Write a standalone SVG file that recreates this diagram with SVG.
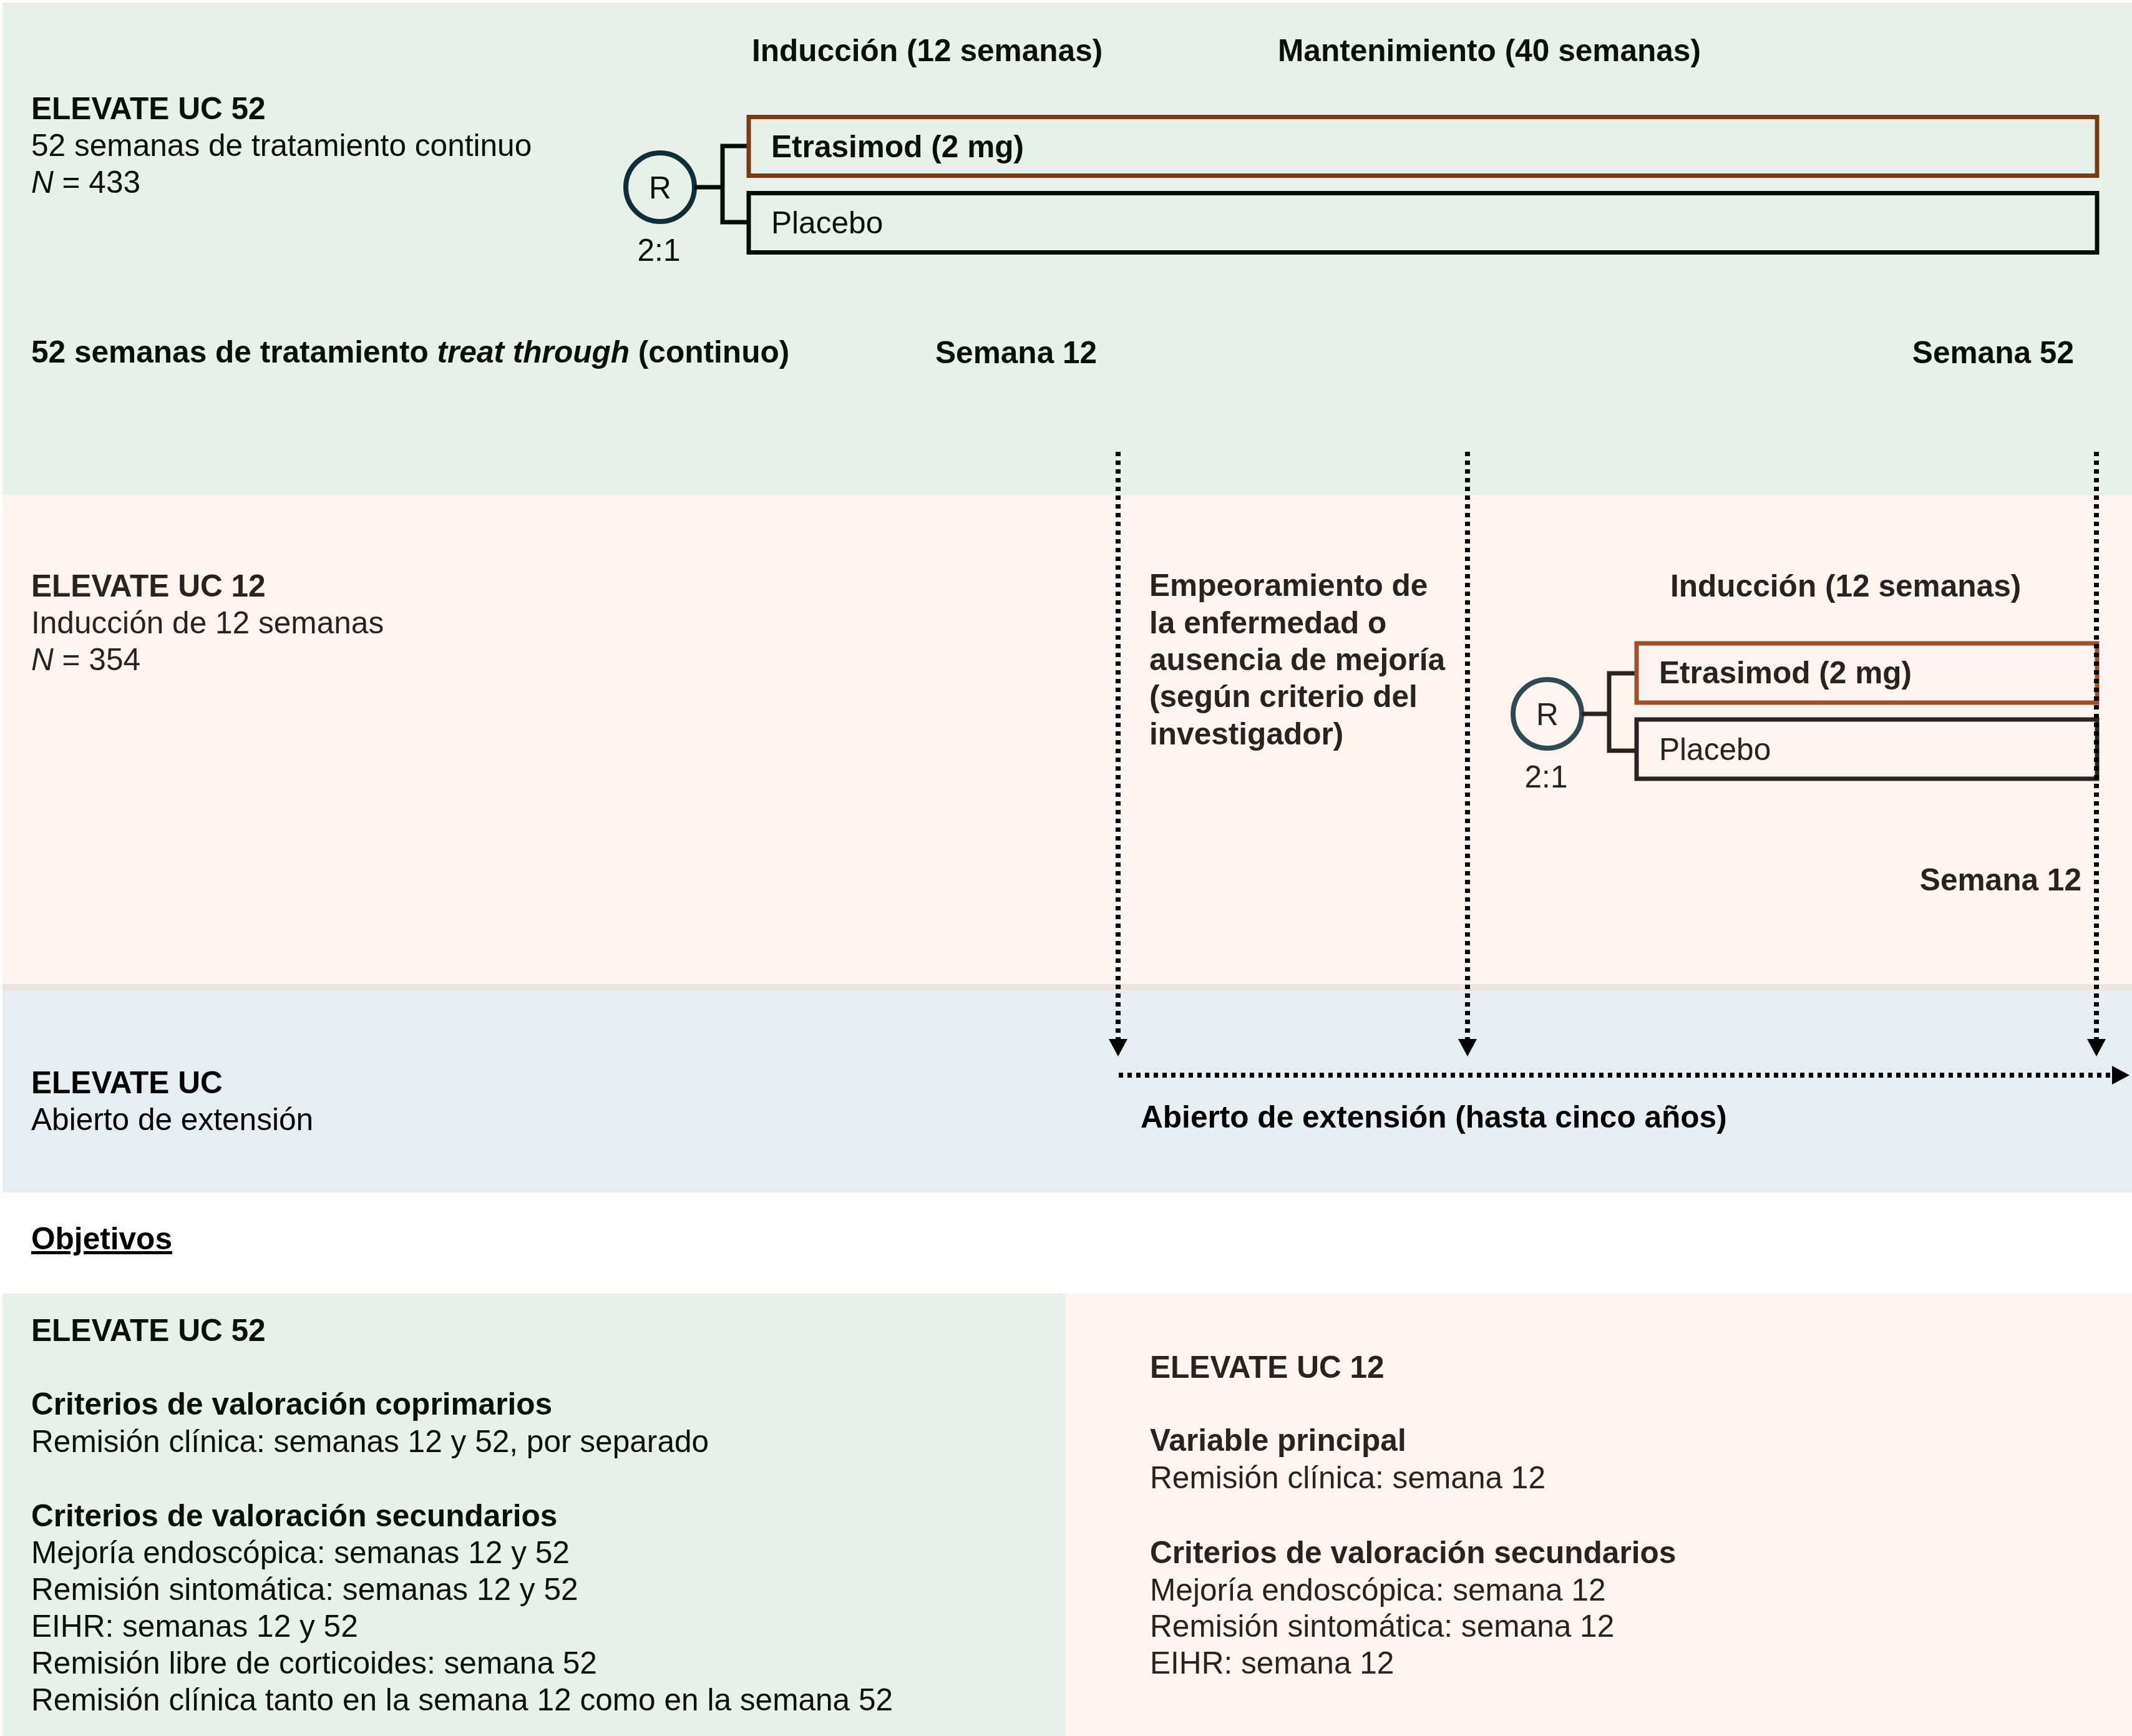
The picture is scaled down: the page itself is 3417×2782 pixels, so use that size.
<svg xmlns="http://www.w3.org/2000/svg" width="3417" height="2782" viewBox="0 0 3417 2782">
<style>
text{font-family:"Liberation Sans",Arial,Helvetica,sans-serif;font-size:49.6px}
.b{font-weight:bold}
.i{font-style:italic}
.tk{fill:#0a0f0b}
.pk{fill:#2a2220}
.bk{fill:#000}
.mid{text-anchor:middle}
.end{text-anchor:end}
.box{fill:none;stroke-width:7}
.conn{fill:none;stroke:#000;stroke-width:8;stroke-dasharray:7 7}
</style>
<defs>
<marker id="arr" markerUnits="userSpaceOnUse" markerWidth="30" markerHeight="32" refX="0" refY="15" orient="auto" viewBox="0 0 30 30">
<path d="M0,0 L28,15 L0,30 z" fill="#000"/>
</marker>
</defs>
<rect width="3417" height="2782" fill="#fff"/>
<g id="panels">
<rect x="4" y="4" width="3413" height="790" fill="#E8F0EA"/>
<rect x="4" y="795" width="3413" height="782" fill="#FDF4F0"/>
<rect x="4" y="1577" width="3413" height="10" fill="#E9E4E2"/>
<rect x="4" y="1587" width="3413" height="324" fill="#E6EEF2"/>
<rect x="4" y="2073" width="1704" height="709" fill="#E8F0EA"/>
<rect x="1708" y="2073" width="1709" height="709" fill="#FDF4F0"/>
</g>
<g id="elevate52">
<text class="b tk" x="50" y="191">ELEVATE UC 52</text>
<text class="tk" x="50" y="250">52 semanas de tratamiento continuo</text>
<text class="tk" x="50" y="309"><tspan class="i">N</tspan> = 433</text>
<text class="b tk" x="1205" y="98">Inducción (12 semanas)</text>
<text class="b tk" x="2048" y="98">Mantenimiento (40 semanas)</text>
<text class="b tk" x="50" y="581">52 semanas de tratamiento <tspan class="i">treat through</tspan> (continuo)</text>
<text class="b tk" x="1499" y="582">Semana 12</text>
<text class="b tk end" x="3324" y="582">Semana 52</text>
</g>
<g id="r52">
<circle cx="1058" cy="300" r="55" fill="none" stroke="#0f2e37" stroke-width="8"/>
<text class="tk mid" x="1058" y="318">R</text>
<text class="tk mid" x="1056" y="418">2:1</text>
<path d="M1113,300 H1158 M1198,234 H1158 V356 H1198" fill="none" stroke="#060c08" stroke-width="7"/>
</g>
<g id="etrasimod52">
<rect class="box" x="1200" y="187.5" width="2161" height="94" stroke="#7a3b14"/>
<text class="b tk" x="1236" y="252">Etrasimod (2 mg)</text>
</g>
<g id="placebo52">
<rect class="box" x="1200" y="309.5" width="2161" height="95" stroke="#060c08"/>
<text class="tk" x="1236" y="374">Placebo</text>
</g>
<g id="elevate12">
<text class="b pk" x="50" y="956">ELEVATE UC 12</text>
<text class="pk" x="50" y="1015">Inducción de 12 semanas</text>
<text class="pk" x="50" y="1074"><tspan class="i">N</tspan> = 354</text>
<text class="b pk" x="2677" y="956">Inducción (12 semanas)</text>
<text class="b pk end" x="3336" y="1427">Semana 12</text>
</g>
<g id="worsening">
<text class="b pk" x="1842" y="955">Empeoramiento de</text>
<text class="b pk" x="1842" y="1015">la enfermedad o</text>
<text class="b pk" x="1842" y="1074">ausencia de mejoría</text>
<text class="b pk" x="1842" y="1133">(según criterio del</text>
<text class="b pk" x="1842" y="1193">investigador)</text>
</g>
<g id="r12">
<circle cx="2480" cy="1144" r="55" fill="none" stroke="#2f4a53" stroke-width="8"/>
<text class="pk mid" x="2480" y="1162">R</text>
<text class="pk mid" x="2478" y="1262">2:1</text>
<path d="M2535,1144 H2579 M2620,1079 H2579 V1203 H2620" fill="none" stroke="#2a2220" stroke-width="7"/>
</g>
<g id="etrasimod12">
<rect class="box" x="2623" y="1031" width="738" height="95" stroke="#9c5128"/>
<text class="b pk" x="2659" y="1095">Etrasimod (2 mg)</text>
</g>
<g id="placebo12">
<rect class="box" x="2623" y="1153" width="738" height="95" stroke="#2a2220"/>
<text class="pk" x="2659" y="1218">Placebo</text>
</g>
<g id="ole">
<text class="b bk" x="50" y="1752">ELEVATE UC</text>
<text class="bk" x="50" y="1811">Abierto de extensión</text>
<text class="b bk" x="1828" y="1807">Abierto de extensión (hasta cinco años)</text>
</g>
<g id="connectors">
<line class="conn" x1="1792" y1="724" x2="1792" y2="1665" marker-end="url(#arr)"/>
<line class="conn" x1="2352" y1="724" x2="2352" y2="1665" marker-end="url(#arr)"/>
<line class="conn" x1="3360" y1="724" x2="3360" y2="1665" marker-end="url(#arr)"/>
<line class="conn" x1="1793" y1="1723" x2="3385" y2="1723" marker-end="url(#arr)"/>
</g>
<g id="objetivos">
<text class="b bk" x="50" y="2002" text-decoration="underline">Objetivos</text>
</g>
<g id="obj52">
<text class="b tk" x="50" y="2149">ELEVATE UC 52</text>
<text class="b tk" x="50" y="2267">Criterios de valoración coprimarios</text>
<text class="tk" x="50" y="2327">Remisión clínica: semanas 12 y 52, por separado</text>
<text class="b tk" x="50" y="2446">Criterios de valoración secundarios</text>
<text class="tk" x="50" y="2505">Mejoría endoscópica: semanas 12 y 52</text>
<text class="tk" x="50" y="2564">Remisión sintomática: semanas 12 y 52</text>
<text class="tk" x="50" y="2623">EIHR: semanas 12 y 52</text>
<text class="tk" x="50" y="2682">Remisión libre de corticoides: semana 52</text>
<text class="tk" x="50" y="2741">Remisión clínica tanto en la semana 12 como en la semana 52</text>
</g>
<g id="obj12">
<text class="b pk" x="1843" y="2208">ELEVATE UC 12</text>
<text class="b pk" x="1843" y="2325">Variable principal</text>
<text class="pk" x="1843" y="2385">Remisión clínica: semana 12</text>
<text class="b pk" x="1843" y="2505">Criterios de valoración secundarios</text>
<text class="pk" x="1843" y="2565">Mejoría endoscópica: semana 12</text>
<text class="pk" x="1843" y="2623">Remisión sintomática: semana 12</text>
<text class="pk" x="1843" y="2682">EIHR: semana 12</text>
</g>
</svg>
